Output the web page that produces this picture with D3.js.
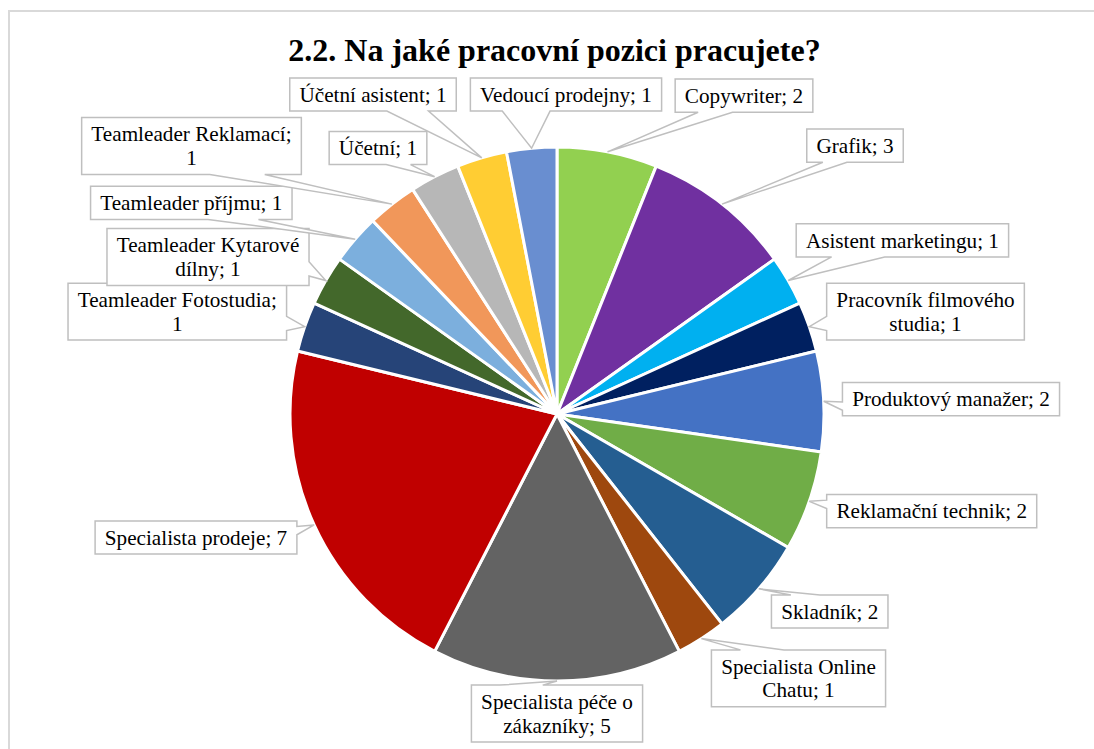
<!DOCTYPE html>
<html>
<head>
<meta charset="utf-8">
<script src="https://cdn.jsdelivr.net/npm/d3@7/dist/d3.min.js"></script>
<style>
  html, body { margin: 0; padding: 0; background: #fff; }
  svg { display: block; }
  text { font-family: "Liberation Serif", "Times New Roman", Tinos, "DejaVu Serif", serif; }
</style>
</head>
<body>
<svg id="chart" width="1094" height="749"></svg>
<script>
// ---------- DATA ----------
const title = "2.2. Na jaké pracovní pozici pracujete?";
const categories = [
  "Copywriter", "Grafik", "Asistent marketingu", "Pracovník filmového studia",
  "Produktový manažer", "Reklamační technik", "Skladník", "Specialista Online Chatu",
  "Specialista péče o zákazníky", "Specialista prodeje", "Teamleader Fotostudia",
  "Teamleader Kytarové dílny", "Teamleader příjmu", "Teamleader Reklamací",
  "Účetní", "Účetní asistent", "Vedoucí prodejny"
];
const values = [2, 3, 1, 1, 2, 2, 2, 1, 5, 7, 1, 1, 1, 1, 1, 1, 1];

// ---------- STYLE ----------
const colors = [
  "#92D050", "#7030A0", "#00B0F0", "#002060", "#4472C4", "#70AD47", "#255E91",
  "#9E480E", "#636363", "#C00000", "#264478", "#43682B", "#7CAFDD", "#F1975A",
  "#B7B7B7", "#FFCD33", "#698ED0"
];

// ---------- LAYOUT (label box centres, as placed in the original) ----------
const labelCenters = [
  [744, 95.7], [855, 145.7], [902.4, 240.3], [925.5, 311.7], [951, 399.2],
  [931.7, 511.2], [829.7, 611.5], [798.5, 678.3], [557, 713.5], [196, 537.5],
  [177.3, 311.7], [208, 257], [191.3, 202.8], [191.5, 146], [378, 148],
  [373, 94.5], [566, 94.5]
];

const W = 1094, H = 749;
const cx = 557, cy = 414, R = 267;
const fontSize = 21.2, lineH = 23.6, padX = 9.7, padY = 4.8, wrapW = 208;

const svg = d3.select("#chart");

// outer frame
svg.append("rect")
  .attr("x", 9).attr("y", 11).attr("width", 1100).attr("height", 800)
  .attr("fill", "none").attr("stroke", "#d9d9d9").attr("stroke-width", 2);

// title
svg.append("text")
  .attr("x", 554.5).attr("y", 60.7)
  .attr("text-anchor", "middle")
  .style("font-weight", "bold")
  .style("font-size", "32px").attr("fill", "#000")
  .text(title);

const data = categories.map((c, i) => ({ name: c, value: values[i], color: colors[i], i }));

const pie = d3.pie().sort(null).value(d => d.value).startAngle(0).endAngle(2 * Math.PI);
const arcs = pie(data);
const arc = d3.arc().innerRadius(0).outerRadius(R);

const g = svg.append("g").attr("transform", `translate(${cx},${cy})`);
g.selectAll("path.slice").data(arcs).join("path")
  .attr("class", "slice")
  .attr("d", arc)
  .attr("fill", d => d.data.color)
  .attr("stroke", "#fff").attr("stroke-width", 3).attr("stroke-linejoin", "round");

// labels with callout boxes
const labelLayer = svg.append("g");

function callout(l, t, w, h, px, py) {
  const r = l + w, b = t + h;
  const hc = l + w / 2, vc = t + h / 2;
  const dxPos = px - hc, dyPos = py - vc;
  const dq = dxPos * h / w;
  const dz = Math.abs(dyPos) - Math.abs(dq);
  const x1 = l + w * (dxPos > 0 ? 7 : 2) / 12, x2 = l + w * (dxPos > 0 ? 10 : 5) / 12;
  const y1 = t + h * (dyPos > 0 ? 7 : 2) / 12, y2 = t + h * (dyPos > 0 ? 10 : 5) / 12;
  const p = d3.path();
  p.moveTo(l, t);
  if (dz > 0 && dyPos < 0) { p.lineTo(x1, t); p.lineTo(px, py); p.lineTo(x2, t); }
  p.lineTo(r, t);
  if (dz <= 0 && dxPos > 0) { p.lineTo(r, y1); p.lineTo(px, py); p.lineTo(r, y2); }
  p.lineTo(r, b);
  if (dz > 0 && dyPos > 0) { p.lineTo(x2, b); p.lineTo(px, py); p.lineTo(x1, b); }
  p.lineTo(l, b);
  if (dz <= 0 && dxPos < 0) { p.lineTo(l, y2); p.lineTo(px, py); p.lineTo(l, y1); }
  p.closePath();
  return p.toString();
}

arcs.forEach((a, i) => {
  const mid = (a.startAngle + a.endAngle) / 2;
  const tipX = cx + Math.sin(mid) * R;
  const tipY = cy - Math.cos(mid) * R;
  const [bx, by] = labelCenters[i];
  const full = `${a.data.name}; ${a.data.value}`;

  const grp = labelLayer.append("g");
  const pathEl = grp.append("path");
  const txt = grp.append("text")
    .style("font-size", fontSize + "px").attr("fill", "#000")
    .attr("text-anchor", "middle");

  // greedy word wrap
  const words = full.split(" ");
  const lines = [];
  let cur = "";
  const probe = txt.append("tspan");
  words.forEach(wd => {
    const test = cur ? cur + " " + wd : wd;
    probe.text(test);
    if (probe.node().getComputedTextLength() > wrapW && cur) {
      lines.push(cur); cur = wd;
    } else cur = test;
  });
  lines.push(cur);
  probe.remove();

  let maxLen = 0;
  lines.forEach(ln => {
    const ts = txt.append("tspan").text(ln);
    maxLen = Math.max(maxLen, ts.node().getComputedTextLength());
    ts.remove();
  });

  const bw = maxLen + 2 * padX;
  const bh = lines.length * lineH + 2 * padY;
  const left = bx - bw / 2, top = by - bh / 2;

  lines.forEach((ln, k) => {
    txt.append("tspan")
      .attr("x", bx)
      .attr("y", by - (lines.length - 1) * lineH / 2 + k * lineH + fontSize * 0.34)
      .text(ln);
  });

  pathEl.attr("d", callout(left, top, bw, bh, tipX, tipY))
    .attr("fill", "#fff").attr("stroke", "#bfbfbf").attr("stroke-width", 1.5)
    .attr("stroke-linejoin", "miter");
});
</script>
</body>
</html>
